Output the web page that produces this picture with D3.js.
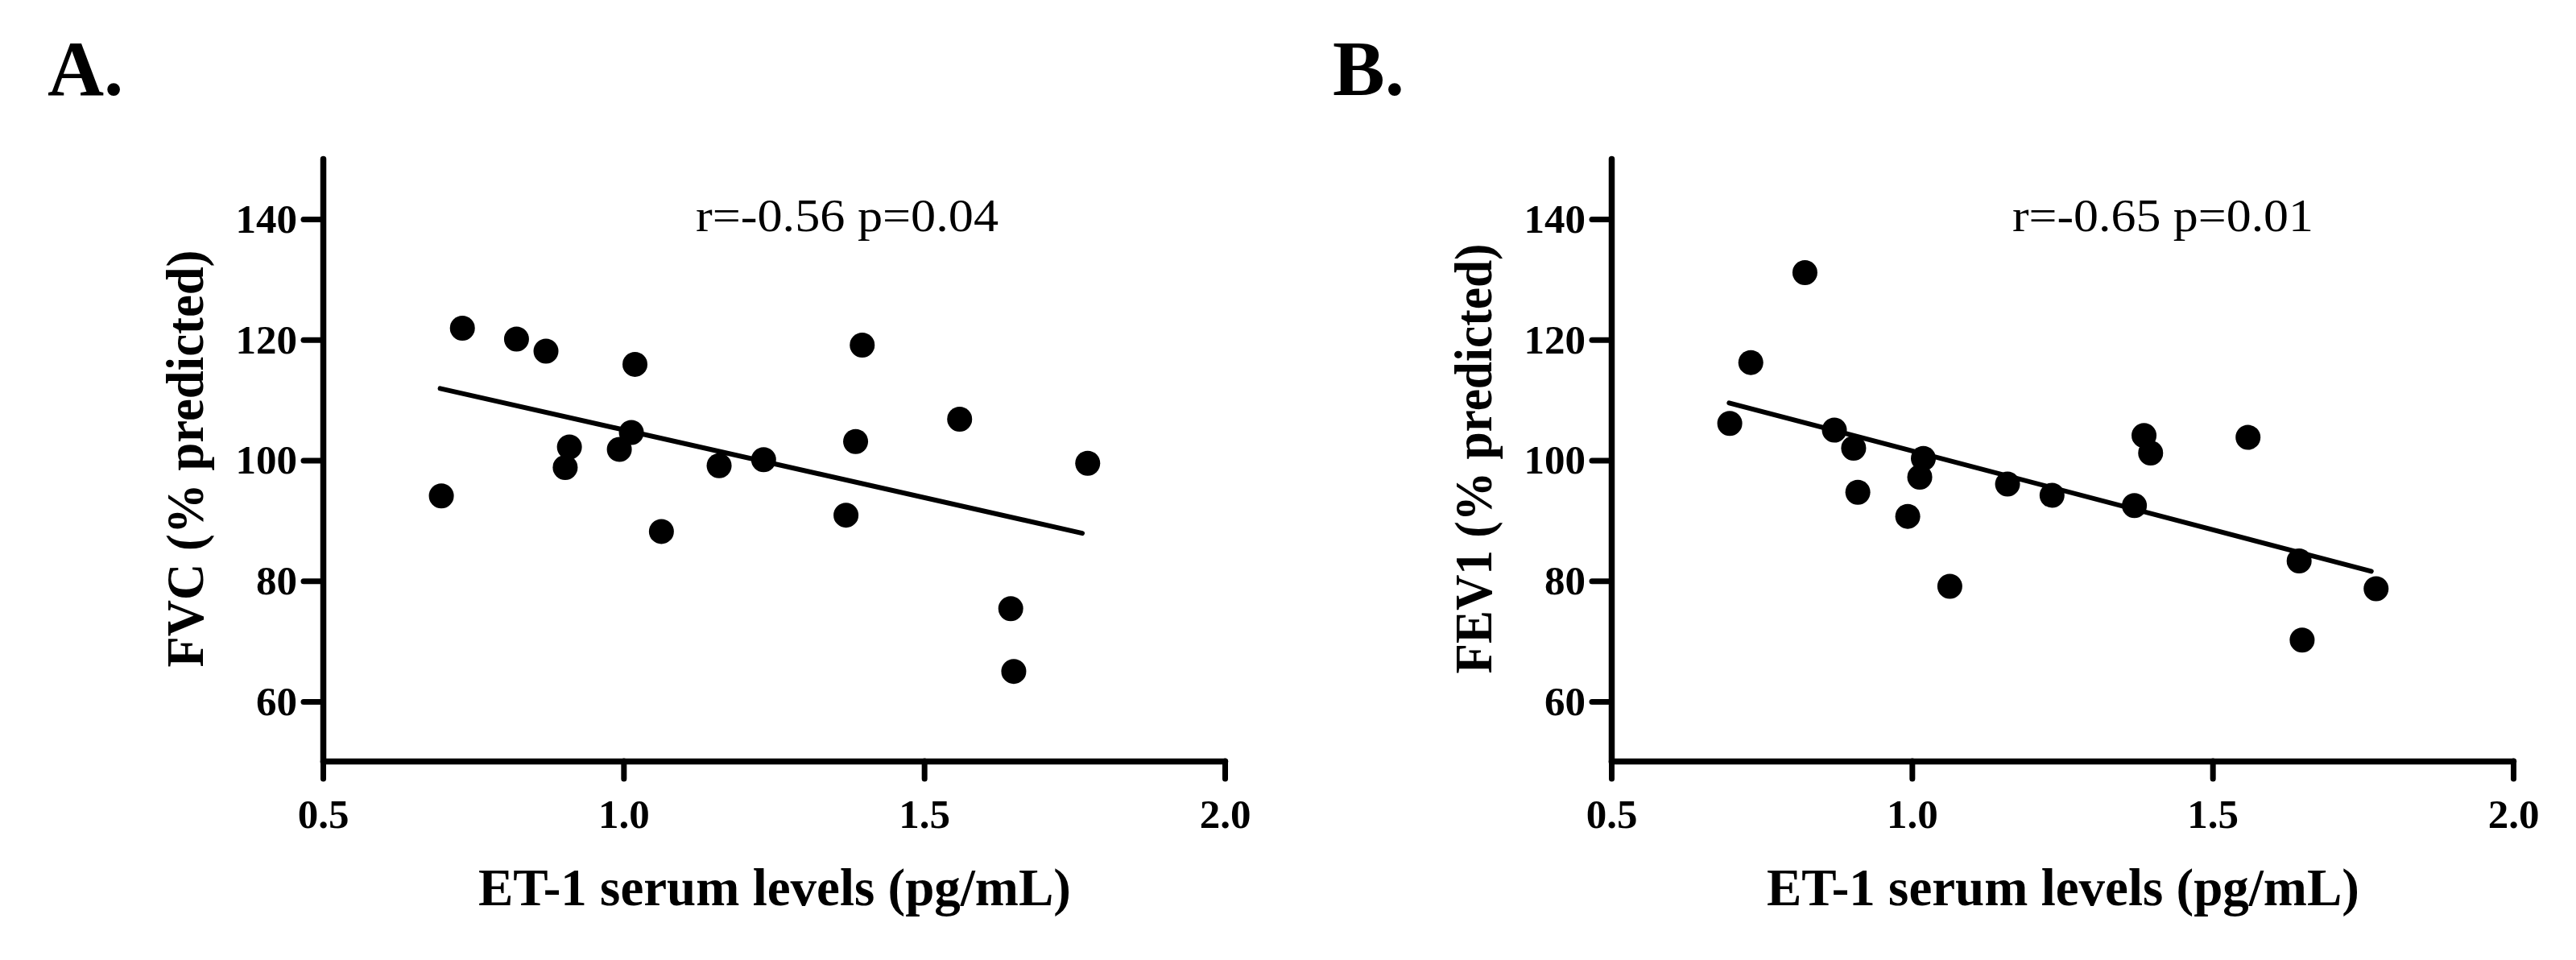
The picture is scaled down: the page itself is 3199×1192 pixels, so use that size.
<!DOCTYPE html>
<html>
<head>
<meta charset="utf-8">
<script src="https://cdn.jsdelivr.net/npm/d3@7"></script>
<style>
  html, body { margin: 0; padding: 0; background: #ffffff; }
  svg { display: block; }
</style>
</head>
<body>
<svg id="chart" width="3199" height="1192"></svg>
<script>
// ---------- data ----------
const et1Levels = [0.697, 0.732, 0.822, 0.871, 0.903, 0.910, 0.993, 1.013, 1.019, 1.063,
                   1.159, 1.233, 1.370, 1.386, 1.397, 1.559, 1.644, 1.649, 1.772];
const fvcValues = [94.1, 121.9, 120.1, 118.1, 98.8, 102.2, 101.8, 104.6, 115.9, 88.2,
                   99.1, 100.1, 90.9, 103.1, 119.1, 106.8, 75.4, 65.0, 99.5];
const fev1Values = [106.1, 116.2, 131.1, 105.0, 102.0, 94.7, 90.7, 97.2, 100.3, 79.1,
                    96.05, 94.2, 92.5, 104.1, 101.2, 103.8, 83.3, 70.2, 78.7];
const fvcFitLine  = [[0.695, 111.9], [1.763, 87.9]];
const fev1FitLine = [[0.696, 109.5], [1.764, 81.6]];
const xTicks = [0.5, 1.0, 1.5, 2.0];
const yTicks = [60, 80, 100, 120, 140];
const xDomain = [0.5, 2.0];
const yDomain = [50, 150];
const panelLetters = ["A.", "B."];
const yLabels = ["FVC (% predicted)", "FEV1 (% predicted)"];
const xLabel = "ET-1 serum levels (pg/mL)";
const statsText = ["r=-0.56 p=0.04", "r=-0.65 p=0.01"];

// ---------- layout ----------
const panels = [
  { left: 401, right: 1521, letterX: 59, ylabX: 252, ylabLen: 518, statX: 864, statLen: 376,
    values: fvcValues, fit: fvcFitLine, letter: panelLetters[0], ylab: yLabels[0], stat: statsText[0] },
  { left: 2001, right: 3121, letterX: 1655, ylabX: 1852, ylabLen: 534, statX: 2499, statLen: 374,
    values: fev1Values, fit: fev1FitLine, letter: panelLetters[1], ylab: yLabels[1], stat: statsText[1] }
];
const yTop = 197, yBottom = 946;
const boldFont = "'Liberation Serif', 'Times New Roman', serif";

const svg = d3.select("#chart");

panels.forEach(p => {
  const g = svg.append("g");
  const x = d3.scaleLinear().domain(xDomain).range([p.left, p.right]);
  const y = d3.scaleLinear().domain(yDomain).range([yBottom, yTop]);

  // panel letter
  g.append("text")
    .attr("x", p.letterX).attr("y", 118)
    .attr("font-family", boldFont).attr("font-weight", "bold")
    .attr("font-size", 97).attr("fill", "#000")
    .text(p.letter);

  // y axis
  const yAxis = d3.axisLeft(y).tickValues(yTicks).tickFormat(d3.format("d"))
    .tickSize(24).tickSizeOuter(0).tickPadding(8);
  const gy = g.append("g").attr("transform", `translate(${p.left},0)`).call(yAxis);

  // x axis
  const xAxis = d3.axisBottom(x).tickValues(xTicks).tickFormat(d3.format(".1f"))
    .tickSize(22).tickSizeOuter(0).tickPadding(25);
  const gx = g.append("g").attr("transform", `translate(0,${y(50) - 1})`).call(xAxis);

  [gy, gx].forEach(ax => {
    ax.select(".domain").attr("stroke", "#000").attr("stroke-width", 7.5)
      .attr("stroke-linecap", "round");
    ax.selectAll(".tick line").attr("stroke", "#000").attr("stroke-width", 7)
      .attr("stroke-linecap", "round");
    ax.selectAll(".tick text").attr("fill", "#000")
      .attr("font-family", boldFont).attr("font-weight", "bold").attr("font-size", 51);
  });

  // y axis title
  g.append("text")
    .attr("transform", `translate(${p.ylabX},${(yTop + yBottom) / 2 - 2}) rotate(-90)`)
    .attr("text-anchor", "middle")
    .attr("font-family", boldFont).attr("font-weight", "bold").attr("font-size", 65)
    .attr("textLength", p.ylabLen).attr("lengthAdjust", "spacingAndGlyphs")
    .attr("fill", "#000")
    .text(p.ylab);

  // x axis title
  g.append("text")
    .attr("x", (p.left + p.right) / 2 + 1).attr("y", 1124)
    .attr("text-anchor", "middle")
    .attr("font-family", boldFont).attr("font-weight", "bold").attr("font-size", 65)
    .attr("fill", "#000")
    .text(xLabel);

  // statistics
  g.append("text")
    .attr("x", p.statX).attr("y", 287)
    .attr("font-family", boldFont).attr("font-size", 57)
    .attr("textLength", p.statLen).attr("lengthAdjust", "spacingAndGlyphs")
    .attr("fill", "#000")
    .text(p.stat);

  // regression line
  g.append("path")
    .datum(p.fit)
    .attr("d", d3.line().x(d => x(d[0])).y(d => y(d[1])))
    .attr("fill", "none").attr("stroke", "#000").attr("stroke-width", 6)
    .attr("stroke-linecap", "round");

  // points
  g.append("g").selectAll("circle")
    .data(et1Levels.map((v, i) => [v, p.values[i]]))
    .join("circle")
    .attr("cx", d => x(d[0])).attr("cy", d => y(d[1]))
    .attr("r", 15.5).attr("fill", "#000");
});
</script>
</body>
</html>
